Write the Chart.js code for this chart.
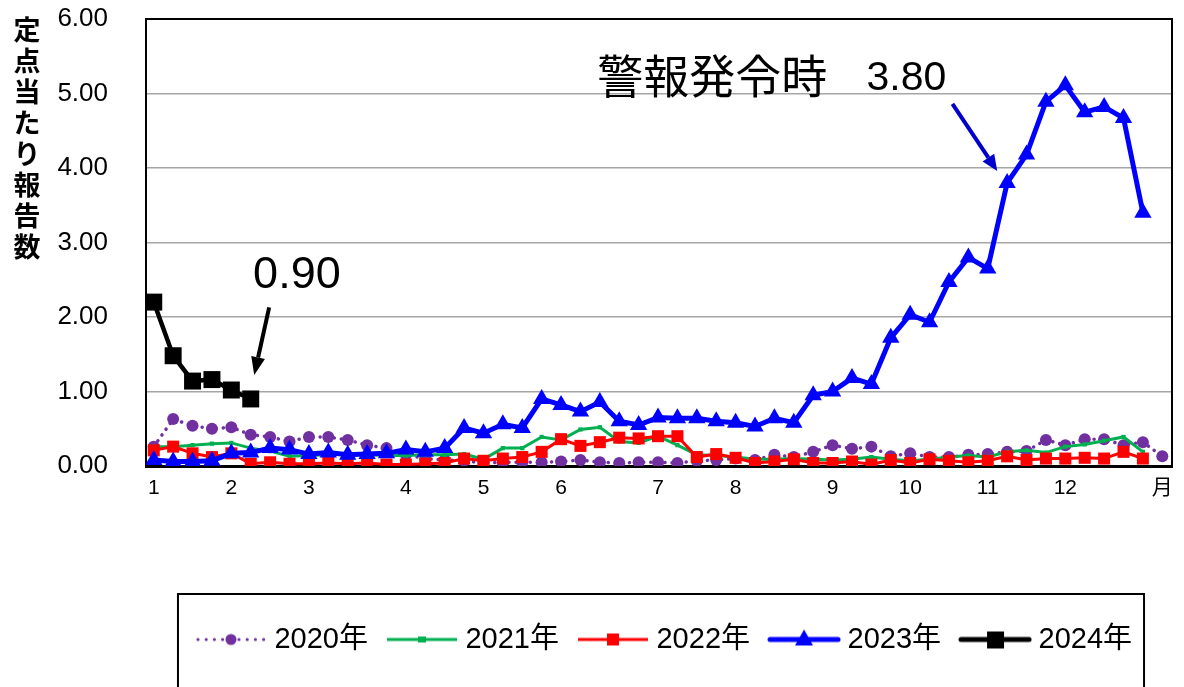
<!DOCTYPE html>
<html lang="ja">
<head>
<meta charset="utf-8">
<title>定点当たり報告数</title>
<script src="https://cdn.jsdelivr.net/npm/chart.js@4.4.1/dist/chart.umd.min.js"></script>
<style>
  html, body { margin: 0; padding: 0; background: #fff; }
  #wrap { width: 1184px; height: 687px; }
</style>
</head>
<body>
<div id="wrap"><canvas id="chart" width="1184" height="687"></canvas></div>
<script>
// ===== DATA =====

const weeks = [
  1, 2, 3, 4, 5, 6, 7, 8, 9, 10, 11, 12, 13, 14, 15, 16, 17, 18,
  19, 20, 21, 22, 23, 24, 25, 26, 27, 28, 29, 30, 31, 32, 33, 34, 35, 36,
  37, 38, 39, 40, 41, 42, 43, 44, 45, 46, 47, 48, 49, 50, 51, 52, 53
];

// week where each month label sits, and the label itself
const monthWeeks = [1, 5, 9, 14, 18, 22, 27, 31, 36, 40, 44, 48, 53];
const monthLabels = ['1', '2', '3', '4', '5', '6', '7', '8', '9', '10', '11', '12', '月'];

const yTickValues = [0, 1, 2, 3, 4, 5, 6];

const values2020 = [
  0.26, 0.63, 0.54, 0.50, 0.52, 0.42, 0.39, 0.33, 0.39, 0.39, 0.35, 0.28, 0.24,
  0.15, 0.10, 0.08, 0.07, 0.04, 0.05, 0.05, 0.05, 0.06, 0.08, 0.05, 0.04, 0.05,
  0.05, 0.04, 0.07, 0.08, 0.10, 0.08, 0.15, 0.12, 0.19, 0.28, 0.23, 0.26, 0.13,
  0.17, 0.12, 0.12, 0.15, 0.16, 0.19, 0.20, 0.35, 0.28, 0.36, 0.36, 0.28, 0.32, 0.13
];

const values2021 = [
  0.26, 0.26, 0.28, 0.30, 0.31, 0.24, 0.20, 0.13, 0.14, 0.15, 0.17, 0.15, 0.14,
  0.14, 0.15, 0.15, 0.16, 0.09, 0.24, 0.24, 0.39, 0.35, 0.49, 0.52, 0.33, 0.31,
  0.40, 0.28, 0.15, 0.14, 0.12, 0.09, 0.09, 0.10, 0.09, 0.08, 0.09, 0.12, 0.09,
  0.07, 0.09, 0.12, 0.14, 0.12, 0.19, 0.21, 0.18, 0.26, 0.29, 0.34, 0.39, 0.19
];

const values2022 = [
  0.21, 0.26, 0.17, 0.12, 0.17, 0.03, 0.05, 0.03, 0.03, 0.04, 0.03, 0.04, 0.02,
  0.02, 0.03, 0.04, 0.10, 0.07, 0.10, 0.12, 0.19, 0.36, 0.27, 0.32, 0.38, 0.37,
  0.40, 0.40, 0.12, 0.16, 0.11, 0.04, 0.06, 0.09, 0.04, 0.04, 0.06, 0.02, 0.08,
  0.04, 0.09, 0.07, 0.05, 0.07, 0.13, 0.08, 0.10, 0.10, 0.11, 0.10, 0.19, 0.10
];

const values2023 = [
  0.08, 0.06, 0.06, 0.07, 0.17, 0.18, 0.24, 0.22, 0.16, 0.18, 0.15, 0.16, 0.17,
  0.22, 0.19, 0.24, 0.51, 0.44, 0.56, 0.51, 0.90, 0.82, 0.73, 0.86, 0.60, 0.55,
  0.65, 0.64, 0.64, 0.60, 0.58, 0.53, 0.64, 0.58, 0.95, 1.00, 1.18, 1.10, 1.72,
  2.03, 1.93, 2.47, 2.80, 2.65, 3.80, 4.18, 4.89, 5.11, 4.75, 4.82, 4.67, 3.40
];

const values2024 = [2.20, 1.48, 1.14, 1.16, 1.02, 0.90];

const seriesLabels = ['2020年', '2021年', '2022年', '2023年', '2024年'];

// ===== TEXT / ANNOTATIONS =====

const yTitle = '定点当たり報告数';
const alertText = '警報発令時';
const alertValue = '3.80';
const latestValue = '0.90';

const FONT = "'Liberation Sans', 'Noto Sans CJK JP', sans-serif";
const CJK = "'Noto Sans CJK JP', sans-serif";

// ===== LEGEND ICONS =====

function makeIcon(draw) {
  const c = document.createElement('canvas');
  c.width = 74;
  c.height = 26;
  const g = c.getContext('2d');
  draw(g, 13);
  return c;
}

const legendIcons = [
  makeIcon((g, m) => {
    g.fillStyle = '#7030A0';
    for (let x = 4; x <= 70; x += 8.2) {
      g.beginPath(); g.arc(x, m, 1.6, 0, Math.PI * 2); g.fill();
    }
    g.beginPath(); g.arc(37, m, 5.5, 0, Math.PI * 2); g.fill();
  }),
  makeIcon((g, m) => {
    g.strokeStyle = '#00B050'; g.lineWidth = 3;
    g.beginPath(); g.moveTo(2, m); g.lineTo(72, m); g.stroke();
    g.fillStyle = '#00B050'; g.fillRect(33, m - 3, 8, 6);
  }),
  makeIcon((g, m) => {
    g.strokeStyle = '#FF0000'; g.lineWidth = 3;
    g.beginPath(); g.moveTo(2, m); g.lineTo(72, m); g.stroke();
    g.fillStyle = '#FF0000'; g.fillRect(31, m - 6, 12, 12);
  }),
  makeIcon((g, m) => {
    g.strokeStyle = '#0000FF'; g.lineWidth = 5; g.lineCap = 'round';
    g.beginPath(); g.moveTo(3, m); g.lineTo(71, m); g.stroke();
    g.fillStyle = '#0000FF';
    g.beginPath(); g.moveTo(37, m - 10); g.lineTo(46, m + 6); g.lineTo(28, m + 6); g.closePath(); g.fill();
  }),
  makeIcon((g, m) => {
    g.strokeStyle = '#000'; g.lineWidth = 5; g.lineCap = 'round';
    g.beginPath(); g.moveTo(3, m); g.lineTo(71, m); g.stroke();
    g.fillStyle = '#000'; g.fillRect(29, m - 8, 17, 17);
  })
];

// ===== DRAW HELPERS =====

function arrow(ctx, x1, y1, x2, y2, color, width, headLen, headW) {
  const ang = Math.atan2(y2 - y1, x2 - x1);
  const bx = x2 - Math.cos(ang) * headLen;
  const by = y2 - Math.sin(ang) * headLen;
  ctx.strokeStyle = color;
  ctx.fillStyle = color;
  ctx.lineWidth = width;
  ctx.beginPath(); ctx.moveTo(x1, y1); ctx.lineTo(bx, by); ctx.stroke();
  ctx.beginPath();
  ctx.moveTo(x2, y2);
  ctx.lineTo(bx + Math.sin(ang) * headW / 2, by - Math.cos(ang) * headW / 2);
  ctx.lineTo(bx - Math.sin(ang) * headW / 2, by + Math.cos(ang) * headW / 2);
  ctx.closePath();
  ctx.fill();
}

const decorPlugin = {
  id: 'decor',
  // the legend block sits a little right of the plot centre
  afterLayout(chart) {
    chart.legend.left += 8;
    chart.legend.right += 8;
  },
  afterDraw(chart) {
    const { ctx, chartArea: a, scales: { x, y } } = chart;
    ctx.save();

    // right edge of plot frame
    ctx.strokeStyle = '#000';
    ctx.lineWidth = 2;
    ctx.beginPath(); ctx.moveTo(a.right, a.top - 1); ctx.lineTo(a.right, a.bottom); ctx.stroke();

    // vertical axis title, one character per line
    ctx.fillStyle = '#000';
    ctx.font = `bold 27px ${CJK}`;
    ctx.textAlign = 'center';
    ctx.textBaseline = 'middle';
    [...yTitle].forEach((ch, i) => ctx.fillText(ch, 27, 30 + i * 31));

    // annotations
    ctx.textAlign = 'left';
    ctx.font = `46px ${CJK}`;
    ctx.fillText(alertText, x.getPixelForValue(23.87), y.getPixelForValue(5.24));
    ctx.font = `41px ${FONT}`;
    ctx.fillText(alertValue, x.getPixelForValue(37.75), y.getPixelForValue(5.20));
    ctx.textAlign = 'center';
    ctx.font = `45px ${FONT}`;
    ctx.fillText(latestValue, x.getPixelForValue(8.38), y.getPixelForValue(2.56));

    arrow(ctx, x.getPixelForValue(42.18), y.getPixelForValue(4.86),
      x.getPixelForValue(44.49), y.getPixelForValue(3.96), '#0000CC', 4, 16, 14);
    arrow(ctx, x.getPixelForValue(6.95), y.getPixelForValue(2.13),
      x.getPixelForValue(6.18), y.getPixelForValue(1.22), '#000', 4, 18, 14);

    // legend frame
    const lg = chart.legend;
    const hb = lg.legendHitBoxes;
    const last = hb[hb.length - 1];
    ctx.strokeStyle = '#000';
    ctx.lineWidth = 2;
    const fl = hb[0].left - 24;
    const fr = last.left + last.width + 12;
    ctx.strokeRect(fl, lg.top - 6, fr - fl, 200);

    ctx.restore();
  }
};

// ===== CHART =====

function line(label, data, color, extra) {
  return Object.assign({
    label,
    data,
    borderColor: color,
    backgroundColor: color,
    pointBackgroundColor: color,
    pointBorderColor: color,
    pointBorderWidth: 0,
    fill: false,
    tension: 0
  }, extra);
}

new Chart(document.getElementById('chart'), {
  type: 'line',
  data: {
    labels: weeks,
    datasets: [
      line(seriesLabels[0], values2020, '#7030A0', {
        borderWidth: 3.5, borderDash: [0.1, 7], borderCapStyle: 'round',
        pointStyle: 'circle', pointRadius: 6, order: 5
      }),
      line(seriesLabels[1], values2021, '#00B050', {
        borderWidth: 3, pointStyle: 'rect', pointRadius: 3, order: 4
      }),
      line(seriesLabels[2], values2022, '#FF0000', {
        borderWidth: 3, pointStyle: 'rect', pointRadius: 8.5, order: 3
      }),
      line(seriesLabels[3], values2023, '#0000FF', {
        borderWidth: 5, pointStyle: 'triangle', pointRadius: 10, order: 2
      }),
      line(seriesLabels[4], values2024, '#000000', {
        borderWidth: 4.5, pointStyle: 'rect', pointRadius: 12, order: 1
      })
    ]
  },
  options: {
    responsive: false,
    animation: false,
    devicePixelRatio: 1,
    layout: { padding: { top: 19, right: 6, bottom: 23, left: 0 } },
    plugins: {
      tooltip: { enabled: false },
      legend: {
        position: 'bottom',
        fullSize: false,
        labels: {
          usePointStyle: true,
          pointStyleWidth: 58,
          padding: 25,
          color: '#000',
          font: { family: FONT, size: 29 },
          generateLabels: chart => chart.data.datasets.map((ds, i) => ({
            text: ds.label,
            pointStyle: legendIcons[i],
            fillStyle: ds.borderColor,
            strokeStyle: ds.borderColor,
            lineWidth: 0,
            hidden: false,
            datasetIndex: i
          }))
        }
      }
    },
    scales: {
      x: {
        type: 'linear',
        min: 0.6,
        max: 53.5,
        afterBuildTicks: s => { s.ticks = monthWeeks.map(v => ({ value: v })); },
        afterFit: s => { s.height = 134; },
        grid: { display: false, drawTicks: false },
        border: { display: true, color: '#000', width: 3 },
        ticks: {
          autoSkip: false,
          maxRotation: 0,
          padding: 10,
          color: '#000',
          font: { family: FONT, size: 21 },
          callback: v => monthLabels[monthWeeks.indexOf(v)] ?? ''
        }
      },
      y: {
        min: 0,
        max: 6,
        afterBuildTicks: s => { s.ticks = yTickValues.map(v => ({ value: v })); },
        afterFit: s => { s.width = 146; s.paddingTop = 0; s.paddingBottom = 0; },
        grid: {
          drawTicks: false,
          color: c => (c.tick.value === 6 || c.tick.value === 0) ? '#000' : '#A6A6A6',
          lineWidth: c => c.tick.value === 6 ? 2 : 1.5
        },
        border: { color: '#000', width: 2 },
        ticks: {
          padding: 38,
          color: '#000',
          font: { family: FONT, size: 26 },
          callback: v => v.toFixed(2)
        }
      }
    }
  },
  plugins: [decorPlugin]
});
</script>
</body>
</html>
